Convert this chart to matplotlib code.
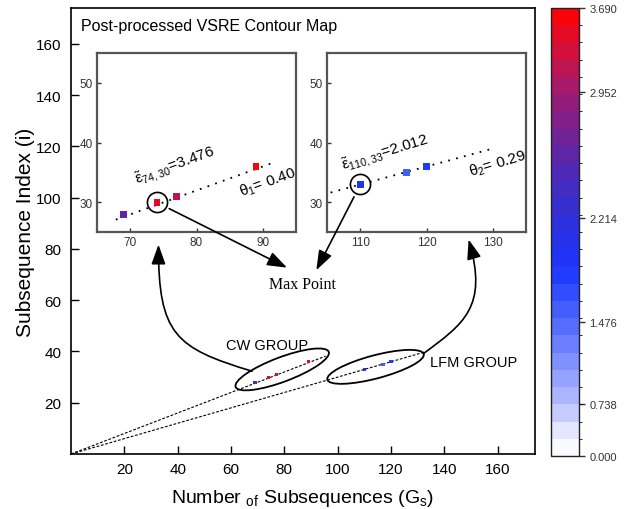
import numpy as np
import matplotlib
matplotlib.use('Agg')
import matplotlib.pyplot as plt
from matplotlib.colors import LinearSegmentedColormap, ListedColormap, BoundaryNorm
from matplotlib.patches import Ellipse, FancyArrowPatch, ConnectionPatch
from matplotlib.path import Path
import matplotlib.cm as cm

plt.rcParams['font.family'] = ['Liberation Sans', 'DejaVu Sans']
plt.rcParams['mathtext.fontset'] = 'custom'
plt.rcParams['mathtext.rm'] = 'Liberation Sans'
plt.rcParams['mathtext.it'] = 'Liberation Sans:italic'
plt.rcParams['mathtext.bf'] = 'Liberation Sans:bold'

# ---------------- data ----------------
cw_x = [69, 74, 77, 89]
cw_y = [28, 30, 31, 36]
cw_v = [2.60, 3.476, 3.13, 3.61]
lfm_x = [110, 117, 120]
lfm_y = [33, 35, 36]
lfm_v = [2.012, 1.58, 1.76]
max_cw = (74, 30, 3.476)
max_lfm = (110, 33, 2.012)
theta = [0.40, 0.29]
line_slopes = [0.4, 0.3]
main_line_xend = [95.5, 132.5]
inset_line_x = [(67.8, 91.2), (105.5, 129.5)]
main_ticks = [20, 40, 60, 80, 100, 120, 140, 160]
inset1_xticks = [70, 80, 90]
inset2_xticks = [110, 120, 130]
inset_yticks = [30, 40, 50]
cbar_ticks = [0.000, 0.738, 1.476, 2.214, 2.952, 3.690]
cbar_tick_pos = [0.0, 0.115, 0.298, 0.531, 0.816, 1.0]
n_bands = 26

# ---------------- colormap ----------------
nodes = [(0.0, '#ffffff'), (0.04, '#f0f2ff'), (0.115, '#b4bcff'), (0.298, '#5068ff'),
         (0.42, '#1a35ff'), (0.531, '#3030d8'), (0.65, '#5228b0'), (0.816, '#a01a70'),
         (0.9, '#d01040'), (1.0, '#ff0000')]
base = LinearSegmentedColormap.from_list('vsre', nodes)
cmap = ListedColormap(base((np.arange(n_bands) + 0.5) / n_bands))
bounds = np.interp(np.linspace(0, 1, n_bands + 1), cbar_tick_pos, cbar_ticks)
norm = BoundaryNorm(bounds, n_bands)

W, H = 628, 510
fig = plt.figure(figsize=(W / 100, H / 100), dpi=100)
ax = fig.add_axes([71 / W, 1 - 455 / H, (535 - 71) / W, (455 - 9) / H])
ax.set_xlim(0, 174)
ax.set_ylim(0, 174)
ax.set_xticks(main_ticks)
ax.set_yticks(main_ticks)
ax.tick_params(direction='in', length=6, width=1, labelsize=11)
ax.tick_params(axis='x', pad=6)
ax.tick_params(axis='y', pad=7)
for s in ax.spines.values():
    s.set_linewidth(1.2)
ax.set_xlabel(r'Number $_{\mathrm{of}}$ Subsequences (G$_{\mathrm{s}}$)', fontsize=14)
ax.set_ylabel('Subsequence Index (i)', fontsize=15)
ax.xaxis.set_label_coords(0.5, -0.075)
ax.yaxis.set_label_coords(-0.077, 0.5)
ax.text(0.021, 0.960, 'Post-processed VSRE Contour Map', transform=ax.transAxes,
        fontsize=11.5, ha='left', va='center')

# reference lines from origin
for sl, xe in zip(line_slopes, main_line_xend):
    xs = np.array([0, xe])
    ax.plot(xs, sl * xs, color='k', lw=0.8, ls=(0, (2.5, 1.5)), zorder=2)
ax.scatter(cw_x, cw_y, c=cw_v, cmap=cmap, norm=norm, marker='s', s=5, zorder=3, linewidths=0)
ax.scatter(lfm_x, lfm_y, c=lfm_v, cmap=cmap, norm=norm, marker='s', s=5, zorder=3, linewidths=0)

# group ellipses
ax.add_patch(Ellipse((79.2, 33.0), 37.5, 9.5, angle=21.5, fill=False, ec='k', lw=1.3, zorder=4))
ax.add_patch(Ellipse((114.2, 34.0), 37.5, 9.0, angle=15.5, fill=False, ec='k', lw=1.3, zorder=4))
ax.text(73.5, 42.7, 'CW GROUP', fontsize=10.5, ha='center', va='center')
ax.text(134.5, 35.8, 'LFM GROUP', fontsize=10.5, ha='left', va='center')
ax.text(86.9, 66.2, 'Max Point', fontsize=11.5, ha='center', va='center',
        family=['Liberation Serif', 'DejaVu Serif'])

# insets
def make_inset(rect, xlim, xticks, xs, ys, vs, sl, lx, mx):
    a = fig.add_axes(rect)
    a.set_xlim(*xlim)
    a.set_ylim(25, 55)
    a.set_xticks(xticks)
    a.set_yticks(inset_yticks)
    a.tick_params(direction='in', length=3, width=1, labelsize=8.5, colors='#333333', pad=3)
    for s in a.spines.values():
        s.set_linewidth(1.6)
        s.set_color('#555555')
    lxa = np.array(lx)
    a.plot(lxa, sl * lxa, color='k', lw=1.3, ls=(0, (1, 3.5)), zorder=2)
    a.scatter(xs, ys, c=vs, cmap=cmap, norm=norm, marker='s', s=22, zorder=3, linewidths=0)
    a.plot([mx[0]], [mx[1]], 'o', ms=14.5, mfc='none', mec='k', mew=1.2, zorder=4)
    return a

ax1 = make_inset([97.3 / W, 1 - 233.3 / H, 198.4 / W, 179.3 / H], (65, 95), inset1_xticks,
                 cw_x, cw_y, cw_v, line_slopes[0], inset_line_x[0], max_cw)
ax2 = make_inset([327.3 / W, 1 - 233.3 / H, 198.4 / W, 179.3 / H], (105, 135), inset2_xticks,
                 lfm_x, lfm_y, lfm_v, line_slopes[1], inset_line_x[1], max_lfm)

ax1.text(76.7, 36.2, r'$\tilde{\mathrm{ε}}_{%d,%d}$=%.3f' % max_cw, fontsize=11, rotation=20,
         rotation_mode='anchor', ha='center', va='center')
ax1.text(90.8, 33.4, r'$\mathrm{θ}_1$= %.2f' % theta[0], fontsize=11, rotation=20,
         rotation_mode='anchor', ha='center', va='center')
ax2.text(113.8, 38.3, r'$\tilde{\mathrm{ε}}_{%d,%d}$=%.3f' % max_lfm, fontsize=11, rotation=17,
         rotation_mode='anchor', ha='center', va='center')
ax2.text(130.8, 36.6, r'$\mathrm{θ}_2$= %.2f' % theta[1], fontsize=11, rotation=17,
         rotation_mode='anchor', ha='center', va='center')

# arrows to "Max Point"
astyle = '-|>,head_length=0.75,head_width=0.27'
for a, mx, tip in [(ax1, max_cw, (81.0, 72.7)), (ax2, max_lfm, (92.0, 71.7))]:
    cp = ConnectionPatch(xyA=(mx[0], mx[1]), coordsA=a.transData, xyB=tip, coordsB=ax.transData,
                         arrowstyle=astyle, mutation_scale=16, color='k', lw=1.2, shrinkA=10, shrinkB=0)
    fig.add_artist(cp)

# curved arrows from groups to insets
curves = [[(67.9, 32.3), (39.2, 41.3), (32.8, 46.6), (32.8, 81.7)],
          [(132.2, 39.2), (147.3, 50.8), (156.4, 57.4), (149.1, 83.7)]]
for pts in curves:
    path = Path(pts, [Path.MOVETO, Path.CURVE4, Path.CURVE4, Path.CURVE4])
    fa = FancyArrowPatch(path=path, arrowstyle=astyle, mutation_scale=16, color='k', lw=1.2,
                         transform=ax.transData)
    fig.add_artist(fa)

# colorbar
cax = fig.add_axes([551 / W, 1 - 457 / H, 28 / W, (457 - 9) / H])
sm = cm.ScalarMappable(norm=norm, cmap=cmap)
cb = fig.colorbar(sm, cax=cax, spacing='uniform', ticks=cbar_ticks)
cb.ax.set_yticklabels(['%.3f' % t for t in cbar_ticks])
cb.ax.tick_params(labelsize=8, colors='#333333', length=4, width=1, direction='out')
cb.outline.set_linewidth(1.0)
cb.outline.set_edgecolor('#222222')

fig.savefig('out.png', dpi=100)
